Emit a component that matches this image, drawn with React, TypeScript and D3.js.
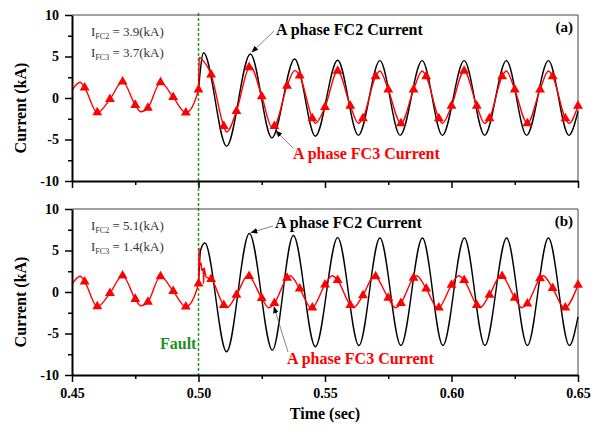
import React, { useEffect, useRef } from "react";
import {
  scaleLinear,
  axisBottom,
  axisLeft,
  select,
  line,
  curveMonotoneX,
  symbol,
  symbolTriangle,
} from "d3";

// [time (s), current (kA)] — waveform before the fault, same in both cases
const preFaultMarks = [
  [0.455, 1.25], [0.46, -1.75], [0.465, -0.15], [0.47, 1.97], [0.475, -0.85],
  [0.48, -1.2], [0.485, 1.88], [0.49, 0.1], [0.495, -1.77], [0.5, 1.0],
];
const preFaultTurns = [[0.45, 0.95], [0.4532, 1.9], [0.4772, -1.65]];

// case (a)
const fc2TurnsA = [
  [0.502, 5.45], [0.5111, -5.8], [0.5205, 5.3], [0.529, -4.8], [0.538, 4.7],
  [0.5462, -4.6], [0.555, 4.55], [0.5632, -4.5], [0.5717, 4.5], [0.5797, -4.5],
  [0.5884, 4.5], [0.5964, -4.5], [0.605, 4.5], [0.6131, -4.5], [0.6217, 4.5],
  [0.6297, -4.5], [0.6383, 4.5], [0.6464, -4.5], [0.65, -1.6],
];
const fc3MarksA = [
  [0.505, 2.8], [0.51, -3.4], [0.515, -1.6], [0.52, 3.7], [0.525, 0.2],
  [0.53, -3.4], [0.535, 1.45], [0.54, 2.7], [0.545, -2.45], [0.55, -1.1],
  [0.555, 3.25], [0.56, -0.95], [0.565, -2.45], [0.57, 2.6], [0.575, 1.0],
  [0.58, -3.05], [0.585, 1.0], [0.59, 2.6], [0.595, -2.45], [0.6, -0.95],
  [0.605, 3.25], [0.61, -0.95], [0.615, -2.45], [0.62, 2.6], [0.625, 1.0],
  [0.63, -3.05], [0.635, 1.0], [0.64, 2.6], [0.645, -2.45], [0.65, -0.95],
];
const fc3TurnsA = [
  [0.5003, 4.9], [0.5012, 4.7], [0.5111, -4.1], [0.5205, 3.8], [0.529, -3.5],
  [0.538, 3.3], [0.5462, -3.05], [0.5632, -3.05], [0.5717, 3.25], [0.5884, 3.25],
  [0.5964, -3.05], [0.6131, -3.05], [0.6217, 3.25], [0.6383, 3.25], [0.6464, -3.05],
];

// case (b)
const fc2TurnsB = [
  [0.5008, 5.0], [0.5025, 5.9], [0.5111, -7.2], [0.5201, 7.05], [0.5292, -7.0],
  [0.5375, 6.8], [0.5462, -6.6], [0.555, 6.55], [0.5634, -6.45], [0.5717, 6.5],
  [0.58, -6.45], [0.5885, 6.5], [0.5966, -6.45], [0.6051, 6.5], [0.6132, -6.45],
  [0.6218, 6.5], [0.63, -6.45], [0.6383, 6.5], [0.6466, -6.45], [0.65, -3.0],
];
const fc3MarksB = [
  [0.505, 1.55], [0.51, -1.6], [0.515, -0.35], [0.52, 1.9], [0.525, -0.75],
  [0.53, -1.35], [0.535, 1.7], [0.54, 0.4], [0.545, -1.88], [0.55, 0.88],
  [0.555, 1.42], [0.56, -1.6], [0.565, -0.4], [0.57, 1.88], [0.575, -0.72],
  [0.58, -1.35], [0.585, 1.7], [0.59, 0.4], [0.595, -1.88], [0.6, 0.85],
  [0.605, 1.42], [0.61, -1.58], [0.615, -0.35], [0.62, 1.92], [0.625, -0.7],
  [0.63, -1.4], [0.635, 1.65], [0.64, 0.45], [0.645, -1.88], [0.65, 0.84],
];
const fc3TurnsB = [
  [0.5002, 5.3], [0.5005, 3.2], [0.501, 3.5], [0.5013, 2.6], [0.5019, 2.8],
  [0.502, 1.0], [0.5022, 2.9], [0.503, 1.8],
  [0.5112, -1.9], [0.5195, 1.95], [0.5278, -1.9], [0.5362, 1.95], [0.5445, -1.9],
  [0.5528, 1.95], [0.5612, -1.9], [0.5695, 1.95], [0.5778, -1.9], [0.5862, 1.95],
  [0.5945, -1.9], [0.6028, 1.95], [0.6112, -1.9], [0.6195, 1.95], [0.6278, -1.9],
  [0.6362, 1.95], [0.6445, -1.9],
];

const xTicks = [0.45, 0.5, 0.55, 0.6, 0.65];
const xMinorTicks = [0.475, 0.525, 0.575, 0.625];
const yTicks = [-10, -5, 0, 5, 10];
const yMinorTicks = [-7.5, -2.5, 2.5, 7.5];
const faultTime = 0.5;

const panels = [
  {
    tag: "(a)", top: 15, fc2: fc2TurnsA, fc3Marks: fc3MarksA, fc3Turns: fc3TurnsA,
    ifc2: "3.9", ifc3: "3.7",
    fc2Label: [276, 35], fc2Arrow: [274, 31, 252, 52],
    fc3Label: [293, 159], fc3Arrow: [293, 148, 276, 131],
  },
  {
    tag: "(b)", top: 209, fc2: fc2TurnsB, fc3Marks: fc3MarksB, fc3Turns: fc3TurnsB,
    ifc2: "5.1", ifc3: "1.4",
    fc2Label: [275, 228], fc2Arrow: [273, 226, 251, 232.5],
    fc3Label: [287, 364], fc3Arrow: [288, 352, 274, 307],
  },
];

const FONT = "'Liberation Serif', 'Times New Roman', serif";
const plotH = 166;
const byTime = (a, b) => a[0] - b[0];

const x = scaleLinear().domain([0.45, 0.65]).range([72, 578]);

const Axis = ({ axis, transform, minor = false, labels = true }) => {
  const node = useRef(null);
  useEffect(() => {
    const g = select(node.current);
    g.call(axis);
    g.attr("font-family", FONT).attr("font-size", 14).attr("font-weight", "bold");
    g.selectAll(".tick line").attr("stroke-width", 1.5);
    if (minor) g.select(".domain").remove();
    else g.select(".domain").attr("stroke-width", 2);
    if (!labels || minor) g.selectAll(".tick text").remove();
  });
  return <g ref={node} transform={transform} />;
};

const Panel = ({ p, showXLabels }) => {
  const y = scaleLinear().domain([-10, 10]).range([p.top + plotH, p.top]);
  const path = line()
    .x((d) => x(d[0]))
    .y((d) => y(d[1]))
    .curve(curveMonotoneX);
  // FC2 sits under FC3 before the fault, so it is drawn from the fault on
  const fc2Line = [preFaultMarks[preFaultMarks.length - 1], ...p.fc2].sort(byTime);
  const fc3Line = [...preFaultMarks, ...preFaultTurns, ...p.fc3Marks, ...p.fc3Turns].sort(byTime);
  const marks = [...preFaultMarks, ...p.fc3Marks];
  const tri = symbol().type(symbolTriangle).size(42)();
  const bottom = y(-10);

  return (
    <g>
      <path
        d={`M${x(0.45)},${y(10)}H${x(0.65)}V${bottom}`}
        fill="none"
        stroke="#444"
        strokeWidth={1}
      />
      <path d={path(fc2Line)} fill="none" stroke="#000" strokeWidth={1.4} />
      <path d={path(fc3Line)} fill="none" stroke="#ff0000" strokeWidth={1.4} />
      {marks.map((d, i) => (
        <path key={i} d={tri} fill="#ff0000" transform={`translate(${x(d[0])},${y(d[1])})`} />
      ))}

      <Axis
        axis={axisBottom(x).tickValues(xTicks).tickSize(7).tickSizeOuter(0).tickPadding(6).tickFormat((d) => Number(d).toFixed(2))}
        transform={`translate(0,${bottom})`}
        labels={showXLabels}
      />
      <Axis
        axis={axisBottom(x).tickValues(xMinorTicks).tickSize(4).tickFormat(() => "")}
        transform={`translate(0,${bottom})`}
        minor
      />
      <Axis
        axis={axisLeft(y).tickValues(yTicks).tickSize(7).tickSizeOuter(0).tickPadding(6).tickFormat((d) => String(d))}
        transform={`translate(${x(0.45)},0)`}
      />
      <Axis
        axis={axisLeft(y).tickValues(yMinorTicks).tickSize(4).tickFormat(() => "")}
        transform={`translate(${x(0.45)},0)`}
        minor
      />

      <text x={91} y={p.top + 21} fontFamily={FONT} fontSize={13} fill="#333">
        I<tspan fontSize={8} dy={3}>FC2</tspan>
        <tspan dy={-3}>{` = ${p.ifc2}(kA)`}</tspan>
      </text>
      <text x={91} y={p.top + 42} fontFamily={FONT} fontSize={13} fill="#333">
        I<tspan fontSize={8} dy={3}>FC3</tspan>
        <tspan dy={-3}>{` = ${p.ifc3}(kA)`}</tspan>
      </text>

      <line
        x1={p.fc2Arrow[0]} y1={p.fc2Arrow[1]} x2={p.fc2Arrow[2]} y2={p.fc2Arrow[3]}
        stroke="#666" strokeWidth={0.8} markerEnd="url(#arrowHead)"
      />
      <line
        x1={p.fc3Arrow[0]} y1={p.fc3Arrow[1]} x2={p.fc3Arrow[2]} y2={p.fc3Arrow[3]}
        stroke="#666" strokeWidth={0.8} markerEnd="url(#arrowHead)"
      />
      <text x={p.fc2Label[0]} y={p.fc2Label[1]} fontFamily={FONT} fontSize={16} fontWeight="bold" fill="#000">
        A phase FC2 Current
      </text>
      <text x={p.fc3Label[0]} y={p.fc3Label[1]} fontFamily={FONT} fontSize={16} fontWeight="bold" fill="#ff0000">
        A phase FC3 Current
      </text>
      <text x={573} y={p.top + 17} textAnchor="end" fontFamily={FONT} fontSize={15} fontWeight="bold">
        {p.tag}
      </text>
      <text
        transform={`translate(26,${p.top + 93}) rotate(-90)`}
        textAnchor="middle"
        fontFamily={FONT}
        fontSize={16}
        fontWeight="bold"
      >
        Current (kA)
      </text>
    </g>
  );
};

export default function App() {
  return (
    <svg
      width={601}
      height={437}
      style={{ position: "absolute", left: 0, top: 0, background: "#fff" }}
    >
      <defs>
        <marker id="arrowHead" viewBox="0 0 10 10" refX={9} refY={5} markerWidth={7} markerHeight={7} orient="auto" markerUnits="userSpaceOnUse">
          <path d="M0,1 L10,5 L0,9 z" fill="#000" />
        </marker>
      </defs>
      <line
        x1={x(faultTime)} x2={x(faultTime)} y1={13} y2={375}
        stroke="#1f9e1f" strokeWidth={1.5} strokeDasharray="3,2"
      />
      {panels.map((p, i) => (
        <Panel key={p.tag} p={p} showXLabels={i === panels.length - 1} />
      ))}
      <text x={160} y={349} fontFamily={FONT} fontSize={16} fontWeight="bold" fill="#1f8f1f">
        Fault
      </text>
      <text x={325} y={419} textAnchor="middle" fontFamily={FONT} fontSize={16} fontWeight="bold">
        Time (sec)
      </text>
    </svg>
  );
}
